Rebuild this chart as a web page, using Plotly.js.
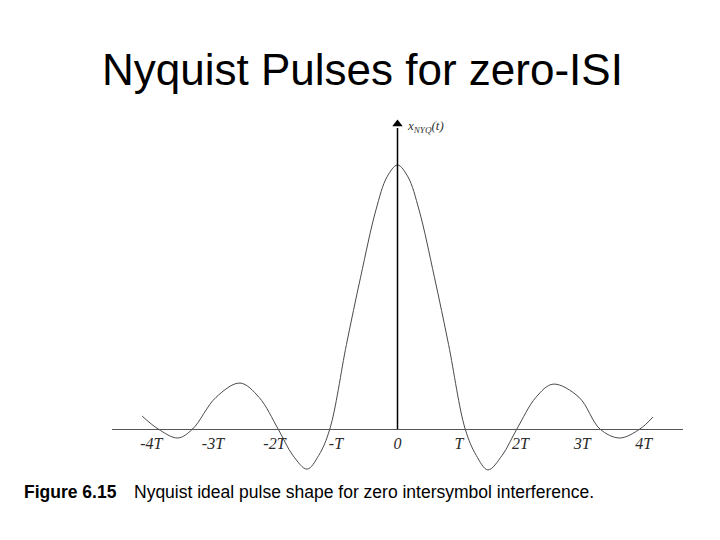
<!DOCTYPE html>
<html>
<head>
<meta charset="utf-8">
<script src="https://cdn.plot.ly/plotly-3.0.1.min.js"></script>
<style>html,body{margin:0;padding:0;background:#fff;}#chart{width:720px;height:540px;}</style>
</head>
<body>
<div id="chart"></div>
<script>
// Pulse samples (time in units of T, amplitude normalised to peak = 1)
var timeT = [-4.15, -3.89, -3.57, -3.33, -2.95, -2.56, -2.25, -1.94, -1.70, -1.47, -1.28, -1.10,
             -0.83, -0.60, -0.35, -0.17, 0, 0.17, 0.35, 0.60, 0.83,
             1.10, 1.28, 1.47, 1.70, 1.94, 2.25, 2.53, 2.95, 3.29, 3.61, 3.94, 4.15];
var amplitude = [0.049, 0.0, -0.034, 0.0, 0.12, 0.174, 0.12, 0.0, -0.10, -0.152, -0.10, 0.0,
                 0.32, 0.575, 0.83, 0.955, 1.0, 0.955, 0.83, 0.575, 0.32,
                 0.0, -0.10, -0.155, -0.10, 0.0, 0.12, 0.170, 0.12, 0.0, -0.034, 0.0, 0.045];
var tickVals = [-4, -3, -2, -1, 0, 1, 2, 3, 4];
var tickLabels = ['-4T', '-3T', '-2T', '-T', '0', 'T', '2T', '3T', '4T'];
var axisTop = 1.14;
var arrowTip = [1.155];

var pulse = {
  x: timeT, y: amplitude, type: 'scatter', mode: 'lines',
  line: {color: '#4a4a4a', width: 1, shape: 'spline', smoothing: 1.0},
  hoverinfo: 'skip', showlegend: false
};
var arrowHead = {
  x: [0], y: arrowTip, type: 'scatter', mode: 'markers',
  marker: {symbol: 'triangle-up', size: 9, color: '#000000'},
  hoverinfo: 'skip', showlegend: false, cliponaxis: false
};

var layout = {
  width: 720, height: 540,
  paper_bgcolor: '#ffffff', plot_bgcolor: '#ffffff',
  margin: {l: 112, r: 37, t: 99, b: 45},
  title: {
    text: 'Nyquist Pulses for zero-ISI',
    font: {family: 'Liberation Sans, Arial, sans-serif', size: 44, color: '#000000'},
    x: 362.5 / 720, xanchor: 'center', xref: 'container',
    y: 1 - 70 / 540, yanchor: 'middle', yref: 'container'
  },
  xaxis: {
    range: [-4.64, 4.64], anchor: 'free', position: 66 / 396,
    showgrid: false, zeroline: false, showline: true, linecolor: '#555555', linewidth: 1,
    tickmode: 'array', tickvals: tickVals, ticktext: tickLabels, ticks: '',
    tickfont: {family: 'Liberation Serif, Times New Roman, serif', size: 16, color: '#2a2a2a', style: 'italic'},
    fixedrange: true
  },
  yaxis: {range: [-0.25, 1.25], visible: false, showgrid: false, zeroline: false, fixedrange: true},
  shapes: [
    {type: 'line', xref: 'x', yref: 'y', x0: 0, x1: 0, y0: 0, y1: axisTop,
     line: {color: '#000000', width: 1.5}}
  ],
  annotations: [
    {x: 0.12, y: 1.144, xref: 'x', yref: 'y', xanchor: 'left', yanchor: 'middle', showarrow: false,
     text: 'x<sub>NYQ</sub>(t)',
     font: {family: 'Liberation Serif, Times New Roman, serif', size: 13, color: '#333333', style: 'italic'}},
    {x: (22 - 112) / 571, y: 3 / 396, xref: 'paper', yref: 'paper', xanchor: 'left', yanchor: 'middle',
     showarrow: false, text: '<b>Figure 6.15</b>',
     font: {family: 'Liberation Sans, Arial, sans-serif', size: 17.5, color: '#000000'}},
    {x: (132 - 112) / 571, y: 3 / 396, xref: 'paper', yref: 'paper', xanchor: 'left', yanchor: 'middle',
     showarrow: false, text: 'Nyquist ideal pulse shape for zero intersymbol interference.',
     font: {family: 'Liberation Sans, Arial, sans-serif', size: 17.5, color: '#000000'}}
  ]
};

Plotly.newPlot('chart', [pulse, arrowHead], layout, {displayModeBar: false, staticPlot: true});
</script>
</body>
</html>
